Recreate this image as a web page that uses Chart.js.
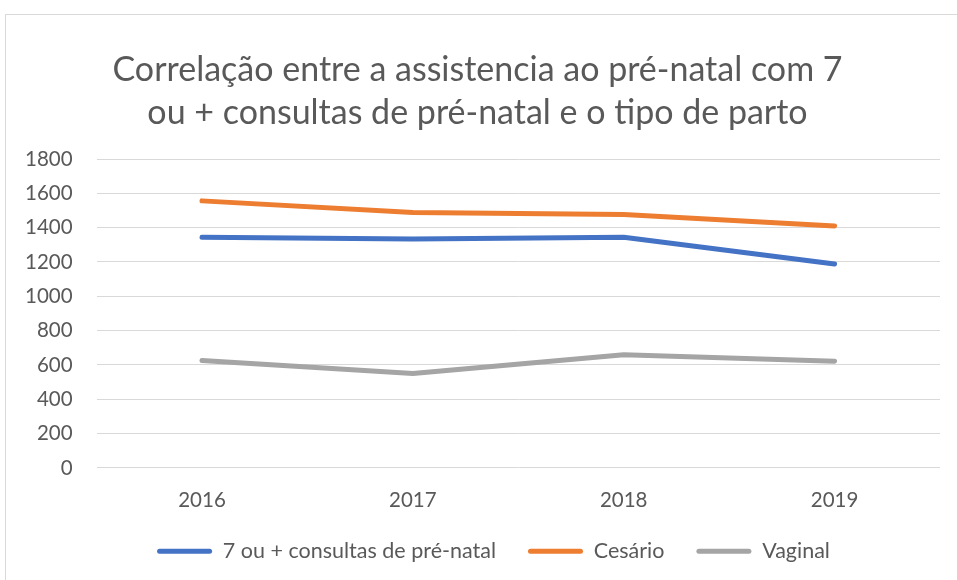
<!DOCTYPE html>
<html>
<head>
<meta charset="utf-8">
<script src="https://cdn.jsdelivr.net/npm/chart.js@4/dist/chart.umd.min.js"></script>
<style>
  html, body { margin: 0; padding: 0; background: #ffffff; overflow: hidden; }
  #frame { position: absolute; left: 5px; top: 14px; width: 1000px; height: 600px; border: 1px solid #d9d9d9; box-sizing: border-box; }
  #wrap { position: absolute; left: 0; top: 0; width: 957px; height: 580px; }
</style>
</head>
<body>
<div id="frame"></div>
<div id="wrap"><canvas id="c" width="957" height="580"></canvas></div>
<script>
const categories = ["2016", "2017", "2018", "2019"];
const consultas = [1344, 1334, 1344, 1188];
const cesario = [1556, 1488, 1476, 1410];
const vaginal = [626, 550, 660, 622];
const titleLines = ["Correlação entre a assistencia ao pré-natal com 7", "ou + consultas de pré-natal e o tipo de parto"];

const FONT = "Lato, 'Open Sans', sans-serif";
const TXT = "#595959";

const boxShift = {
  id: "boxShift",
  afterLayout(chart) {
    if (chart.legend) { chart.legend.left += 23; chart.legend.right += 23; }
    if (chart.titleBlock) { chart.titleBlock.left += 7; chart.titleBlock.right += 7; }
  }
};

new Chart(document.getElementById("c"), {
  type: "line",
  data: {
    labels: categories,
    datasets: [
      { label: "7 ou + consultas de pré-natal", data: consultas, borderColor: "#4472C4", backgroundColor: "#4472C4" },
      { label: "Cesário", data: cesario, borderColor: "#ED7D31", backgroundColor: "#ED7D31" },
      { label: "Vaginal", data: vaginal, borderColor: "#A5A5A5", backgroundColor: "#A5A5A5" }
    ]
  },
  plugins: [boxShift],
  options: {
    responsive: false,
    animation: false,
    devicePixelRatio: 1,
    layout: { padding: { left: 1, right: 17, top: 49, bottom: 8 } },
    elements: {
      line: { borderWidth: 5, tension: 0, borderCapStyle: "round", borderJoinStyle: "round" },
      point: { radius: 0, hoverRadius: 0 }
    },
    plugins: {
      title: {
        display: true,
        text: titleLines,
        color: TXT,
        font: { family: FONT, size: 34, weight: "normal", lineHeight: 1.25 },
        padding: { top: 0, bottom: 25 }
      },
      legend: {
        position: "bottom",
        labels: {
          color: TXT,
          font: { family: FONT, size: 21.5 },
          boxWidth: 55,
          boxHeight: 5,
          padding: 32,
          useBorderRadius: true,
          borderRadius: 2.5,
          generateLabels: (chart) => Chart.defaults.plugins.legend.labels.generateLabels(chart).map(l => Object.assign(l, { lineWidth: 0 }))
        }
      },
      tooltip: { enabled: false }
    },
    scales: {
      x: {
        offset: true,
        grid: { display: false, drawTicks: false },
        border: { display: false },
        ticks: { color: TXT, font: { family: FONT, size: 20.5 }, padding: 20 },
        afterFit: (axis) => { axis.height -= 24; }
      },
      y: {
        min: 0,
        max: 1800,
        ticks: { stepSize: 200, color: TXT, font: { family: FONT, size: 20.5 }, padding: 24, callback: (v) => String(v) },
        grid: { color: "#d9d9d9", lineWidth: 1, drawTicks: false },
        border: { display: false }
      }
    }
  }
});
</script>
</body>
</html>
